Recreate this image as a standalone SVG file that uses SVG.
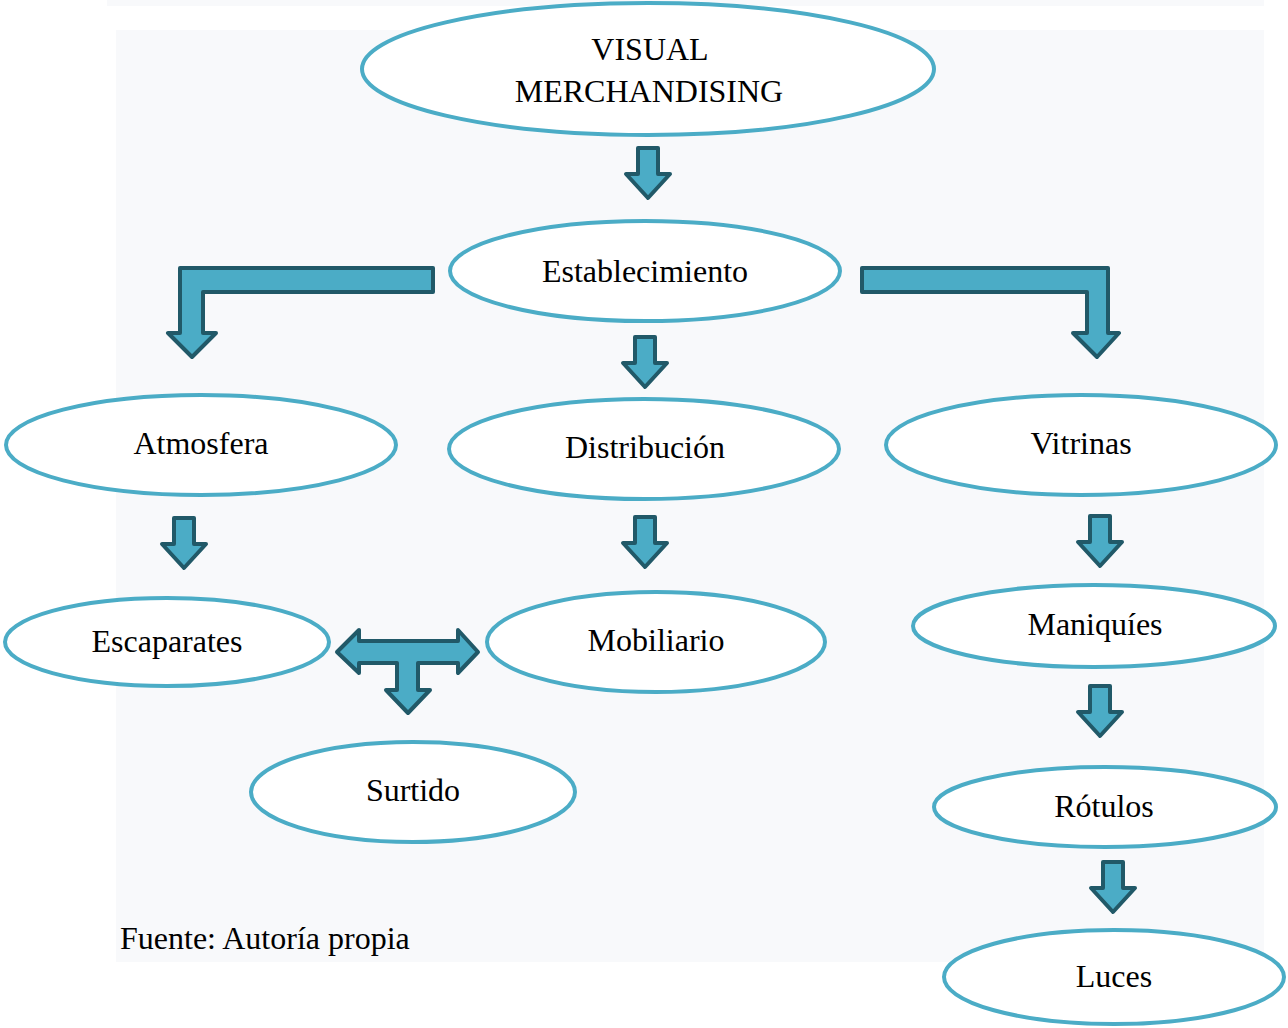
<svg xmlns="http://www.w3.org/2000/svg" width="1288" height="1028" viewBox="0 0 1288 1028">
<style>
.node ellipse{fill:#fff;stroke:#4BACC6;stroke-width:4}
.node text,.note{font-family:"Liberation Serif","Times New Roman",serif;font-size:32px;fill:#000;text-anchor:middle}
.note{text-anchor:start}
.arr{fill:#4BACC6;stroke:#215968;stroke-width:4;stroke-linejoin:round}
</style>
<defs>
<path id="dn" d="M-10,0 H10 V26 H22 L0,50 L-22,26 H-10 Z"/>
</defs>
<rect x="107" y="0" width="1157" height="6" fill="#F8F9FB"/>
<rect x="116" y="30" width="1148" height="932" fill="#F8F9FB"/>
<text class="note" x="120" y="949">Fuente: Autoría propia</text>
<g id="connectors">
<use href="#dn" class="arr" x="648" y="148"/>
<use href="#dn" class="arr" x="645" y="337"/>
<use href="#dn" class="arr" x="184" y="518"/>
<use href="#dn" class="arr" x="645" y="517"/>
<use href="#dn" class="arr" x="1100" y="516"/>
<use href="#dn" class="arr" x="1100" y="686"/>
<use href="#dn" class="arr" x="1113" y="862"/>
<path class="arr" d="M433,268 V292 H203 V333 H216 L192,357 L168,333 H180 V268 Z"/>
<path class="arr" d="M862,268 V292 H1087 V333 H1073 L1097,357 L1119,333 H1108 V268 Z"/>
<path class="arr" d="M337,652 L359,630 V641 H458 V630 L478,652 L458,673 V663 H418 V690 H430 L408,713 L386,690 H397 V663 H359 V673 Z"/>
</g>
<g id="n1" class="node"><ellipse cx="648" cy="69" rx="286" ry="66"/><text x="650" y="60">VISUAL</text><text x="649" y="102">MERCHANDISING</text></g>
<g id="n2" class="node"><ellipse cx="645" cy="271" rx="195" ry="50"/><text x="645" y="282">Establecimiento</text></g>
<g id="n3" class="node"><ellipse cx="201" cy="445" rx="195" ry="50"/><text x="201" y="454">Atmosfera</text></g>
<g id="n4" class="node"><ellipse cx="644" cy="449" rx="195" ry="50"/><text x="645" y="458">Distribución</text></g>
<g id="n5" class="node"><ellipse cx="1081" cy="445" rx="195" ry="50"/><text x="1081" y="454">Vitrinas</text></g>
<g id="n6" class="node"><ellipse cx="167" cy="642" rx="162" ry="44"/><text x="167" y="652">Escaparates</text></g>
<g id="n7" class="node"><ellipse cx="656" cy="642" rx="169" ry="50"/><text x="656" y="651">Mobiliario</text></g>
<g id="n8" class="node"><ellipse cx="413" cy="792" rx="162" ry="50"/><text x="413" y="801">Surtido</text></g>
<g id="n9" class="node"><ellipse cx="1094" cy="626" rx="181" ry="41"/><text x="1095" y="635">Maniquíes</text></g>
<g id="n10" class="node"><ellipse cx="1105" cy="807" rx="171" ry="40"/><text x="1104" y="817">Rótulos</text></g>
<g id="n11" class="node"><ellipse cx="1114" cy="977" rx="170" ry="47"/><text x="1114" y="987">Luces</text></g>
</svg>
